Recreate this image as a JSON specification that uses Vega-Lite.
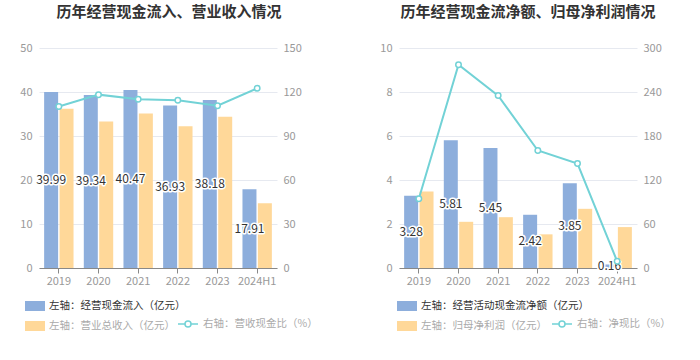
{
  "$schema": "https://vega.github.io/schema/vega-lite/v6.json",
  "padding": {"left": 19, "top": 5, "right": 5, "bottom": 5},
  "background": "white",
  "bounds": "flush",
  "spacing": 122,
  "config": {
    "font": "Noto Sans CJK SC",
    "view": {"stroke": null},
    "axis": {"labelFont": "Noto Sans CJK SC", "labelFontSize": 11, "labelColor": "#999999"},
    "legend": {"labelFont": "Noto Sans CJK SC"}
  },
  "datasets": {
    "barsL": [
      {"year": "2019", "series": "左轴：经营现金流入（亿元）", "value": 39.99},
      {"year": "2019", "series": "左轴：营业总收入（亿元）", "value": 36.2},
      {"year": "2020", "series": "左轴：经营现金流入（亿元）", "value": 39.34},
      {"year": "2020", "series": "左轴：营业总收入（亿元）", "value": 33.3},
      {"year": "2021", "series": "左轴：经营现金流入（亿元）", "value": 40.47},
      {"year": "2021", "series": "左轴：营业总收入（亿元）", "value": 35.1},
      {"year": "2022", "series": "左轴：经营现金流入（亿元）", "value": 36.93},
      {"year": "2022", "series": "左轴：营业总收入（亿元）", "value": 32.2},
      {"year": "2023", "series": "左轴：经营现金流入（亿元）", "value": 38.18},
      {"year": "2023", "series": "左轴：营业总收入（亿元）", "value": 34.4},
      {"year": "2024H1", "series": "左轴：经营现金流入（亿元）", "value": 17.91},
      {"year": "2024H1", "series": "左轴：营业总收入（亿元）", "value": 14.7}
    ],
    "lineL": [
      {"year": "2019", "series": "右轴：营收现金比（%）", "ratio": 110.1},
      {"year": "2020", "series": "右轴：营收现金比（%）", "ratio": 118.2},
      {"year": "2021", "series": "右轴：营收现金比（%）", "ratio": 115.0},
      {"year": "2022", "series": "右轴：营收现金比（%）", "ratio": 114.4},
      {"year": "2023", "series": "右轴：营收现金比（%）", "ratio": 110.7},
      {"year": "2024H1", "series": "右轴：营收现金比（%）", "ratio": 122.5}
    ],
    "barsR": [
      {"year": "2019", "series": "左轴：经营活动现金流净额（亿元）", "value": 3.28},
      {"year": "2019", "series": "左轴：归母净利润（亿元）", "value": 3.48},
      {"year": "2020", "series": "左轴：经营活动现金流净额（亿元）", "value": 5.81},
      {"year": "2020", "series": "左轴：归母净利润（亿元）", "value": 2.1},
      {"year": "2021", "series": "左轴：经营活动现金流净额（亿元）", "value": 5.45},
      {"year": "2021", "series": "左轴：归母净利润（亿元）", "value": 2.31},
      {"year": "2022", "series": "左轴：经营活动现金流净额（亿元）", "value": 2.42},
      {"year": "2022", "series": "左轴：归母净利润（亿元）", "value": 1.53},
      {"year": "2023", "series": "左轴：经营活动现金流净额（亿元）", "value": 3.85},
      {"year": "2023", "series": "左轴：归母净利润（亿元）", "value": 2.69},
      {"year": "2024H1", "series": "左轴：经营活动现金流净额（亿元）", "value": 0.16},
      {"year": "2024H1", "series": "左轴：归母净利润（亿元）", "value": 1.86}
    ],
    "lineR": [
      {"year": "2019", "series": "右轴：净现比（%）", "ratio": 94.4},
      {"year": "2020", "series": "右轴：净现比（%）", "ratio": 277.3},
      {"year": "2021", "series": "右轴：净现比（%）", "ratio": 235.1},
      {"year": "2022", "series": "右轴：净现比（%）", "ratio": 160.2},
      {"year": "2023", "series": "右轴：净现比（%）", "ratio": 142.5},
      {"year": "2024H1", "series": "右轴：净现比（%）", "ratio": 9.1}
    ]
  },
  "hconcat": [
    {
      "width": 238,
      "height": 220,
      "title": {"text": "历年经营现金流入、营业收入情况", "fontSize": 15, "fontWeight": "bold", "color": "#333333", "offset": 22, "dx": 11},
      "layer": [
        {
          "data": {"name": "barsL"},
          "encoding": {
            "x": {"field": "year", "type": "nominal", "sort": null, "title": null,
              "scale": {"paddingInner": 0.26, "paddingOuter": 0.13},
              "axis": {"labelAngle": 0, "domainColor": "#888888", "tickColor": "#888888", "tickSize": 5, "labelPadding": 2, "grid": false}}
          },
          "layer": [
            {
              "transform": [{"filter": "datum.series === '左轴：经营现金流入（亿元）'"}],
              "mark": {"type": "bar", "width": 14, "xOffset": -7.7},
              "encoding": {
                "y": {"field": "value", "type": "quantitative", "stack": null, "title": null,
                  "scale": {"domain": [0, 50]},
                  "axis": {"values": [0, 10, 20, 30, 40, 50], "ticks": false, "domain": false, "labelPadding": 7, "gridColor": "#e6e9f0"}},
                "fill": {"field": "series", "type": "nominal",
                  "scale": {"domain": ["左轴：经营现金流入（亿元）", "左轴：营业总收入（亿元）"], "range": ["#8daedc", "#ffd899"]},
                  "legend": {"orient": "none", "legendX": -14, "legendY": 248, "direction": "vertical", "title": null, "padding": 0,
                    "symbolType": "M-1,-0.5H1V0.5H-1Z", "symbolSize": 400, "symbolStrokeWidth": 0, "labelFontSize": 10.5, "labelOffset": 4, "rowPadding": 4, "labelLimit": 300,
                    "encode": {
                      "symbols": {"update": {"fill": {"signal": "datum.index === 0 ? '#8daedc' : '#ffe8c8'"}}},
                      "labels": {"update": {"fill": {"signal": "datum.index === 0 ? '#333333' : '#aaaaaa'"}}}
                    }}
                }
              }
            },
            {
              "transform": [{"filter": "datum.series === '左轴：营业总收入（亿元）'"}],
              "mark": {"type": "bar", "width": 14, "xOffset": 7.7},
              "encoding": {
                "y": {"field": "value", "type": "quantitative", "stack": null, "scale": {"domain": [0, 50]}, "axis": null},
                "fill": {"field": "series", "type": "nominal"}
              }
            },
            {
              "transform": [{"filter": "datum.series === '左轴：经营现金流入（亿元）'"}],
              "mark": {"type": "text", "fontSize": 12, "stroke": "white", "strokeWidth": 3, "strokeJoin": "round", "fill": "white", "xOffset": -7.7},
              "encoding": {
                "y": {"field": "value", "type": "quantitative", "stack": null, "scale": {"domain": [0, 100]}, "axis": null},
                "text": {"field": "value", "type": "quantitative", "format": ".2f"}
              }
            },
            {
              "transform": [{"filter": "datum.series === '左轴：经营现金流入（亿元）'"}],
              "mark": {"type": "text", "fontSize": 12, "fill": "#333333", "xOffset": -7.7},
              "encoding": {
                "y": {"field": "value", "type": "quantitative", "stack": null, "scale": {"domain": [0, 100]}, "axis": null},
                "text": {"field": "value", "type": "quantitative", "format": ".2f"}
              }
            }
          ],
          "resolve": {"scale": {"y": "independent"}}
        },
        {
          "data": {"name": "lineL"},
          "mark": {"type": "line", "strokeWidth": 2, "point": {"filled": false, "fill": "white", "size": 30, "strokeWidth": 1.5}},
          "encoding": {
            "x": {"field": "year", "type": "nominal", "sort": null, "scale": {"paddingInner": 0.26, "paddingOuter": 0.13}},
            "y": {"field": "ratio", "type": "quantitative", "title": null,
              "scale": {"domain": [0, 150]},
              "axis": {"orient": "right", "values": [0, 30, 60, 90, 120, 150], "ticks": false, "domain": false, "grid": false, "labelPadding": 6}},
            "stroke": {"field": "series", "type": "nominal", "scale": {"range": ["#72d2d6"]},
              "legend": {"orient": "none", "legendX": 138, "legendY": 265, "title": null, "padding": 0,
                "symbolType": "M-1,0H-0.3M0.3,0H1M0.3,0A0.3,0.3 0 1,1 -0.3,0A0.3,0.3 0 1,1 0.3,0", "symbolSize": 400, "symbolStrokeWidth": 1.5, "symbolFillColor": "white",
                "labelFontSize": 10.5, "labelOffset": 4, "labelLimit": 300,
                "encode": {
                  "symbols": {"update": {"stroke": {"value": "#b7e8ea"}, "fill": {"value": "white"}}},
                  "labels": {"update": {"fill": {"value": "#aaaaaa"}}}
                }}
            }
          }
        }
      ],
      "resolve": {"scale": {"y": "independent", "stroke": "independent", "fill": "independent"}}
    },
    {
      "width": 238,
      "height": 220,
      "title": {"text": "历年经营现金流净额、归母净利润情况", "fontSize": 15, "fontWeight": "bold", "color": "#333333", "offset": 22, "dx": 10},
      "layer": [
        {
          "data": {"name": "barsR"},
          "encoding": {
            "x": {"field": "year", "type": "nominal", "sort": null, "title": null,
              "scale": {"paddingInner": 0.26, "paddingOuter": 0.13},
              "axis": {"labelAngle": 0, "domainColor": "#888888", "tickColor": "#888888", "tickSize": 5, "labelPadding": 2, "grid": false}}
          },
          "layer": [
            {
              "transform": [{"filter": "datum.series === '左轴：经营活动现金流净额（亿元）'"}],
              "mark": {"type": "bar", "width": 14, "xOffset": -7.7},
              "encoding": {
                "y": {"field": "value", "type": "quantitative", "stack": null, "title": null,
                  "scale": {"domain": [0, 10]},
                  "axis": {"values": [0, 2, 4, 6, 8, 10], "ticks": false, "domain": false, "labelPadding": 7, "gridColor": "#e6e9f0"}},
                "fill": {"field": "series", "type": "nominal",
                  "scale": {"domain": ["左轴：经营活动现金流净额（亿元）", "左轴：归母净利润（亿元）"], "range": ["#8daedc", "#ffd899"]},
                  "legend": {"orient": "none", "legendX": -2, "legendY": 248, "direction": "vertical", "title": null, "padding": 0,
                    "symbolType": "M-1,-0.5H1V0.5H-1Z", "symbolSize": 400, "symbolStrokeWidth": 0, "labelFontSize": 10.5, "labelOffset": 4, "rowPadding": 4, "labelLimit": 300,
                    "encode": {
                      "symbols": {"update": {"fill": {"signal": "datum.index === 0 ? '#8daedc' : '#ffe8c8'"}}},
                      "labels": {"update": {"fill": {"signal": "datum.index === 0 ? '#333333' : '#aaaaaa'"}}}
                    }}
                }
              }
            },
            {
              "transform": [{"filter": "datum.series === '左轴：归母净利润（亿元）'"}],
              "mark": {"type": "bar", "width": 14, "xOffset": 7.7},
              "encoding": {
                "y": {"field": "value", "type": "quantitative", "stack": null, "scale": {"domain": [0, 10]}, "axis": null},
                "fill": {"field": "series", "type": "nominal"}
              }
            },
            {
              "transform": [{"filter": "datum.series === '左轴：经营活动现金流净额（亿元）'"}],
              "mark": {"type": "text", "fontSize": 12, "stroke": "white", "strokeWidth": 3, "strokeJoin": "round", "fill": "white", "xOffset": -7.7},
              "encoding": {
                "y": {"field": "value", "type": "quantitative", "stack": null, "scale": {"domain": [0, 20]}, "axis": null},
                "text": {"field": "value", "type": "quantitative", "format": ".2f"}
              }
            },
            {
              "transform": [{"filter": "datum.series === '左轴：经营活动现金流净额（亿元）'"}],
              "mark": {"type": "text", "fontSize": 12, "fill": "#333333", "xOffset": -7.7},
              "encoding": {
                "y": {"field": "value", "type": "quantitative", "stack": null, "scale": {"domain": [0, 20]}, "axis": null},
                "text": {"field": "value", "type": "quantitative", "format": ".2f"}
              }
            }
          ],
          "resolve": {"scale": {"y": "independent"}}
        },
        {
          "data": {"name": "lineR"},
          "mark": {"type": "line", "strokeWidth": 2, "point": {"filled": false, "fill": "white", "size": 30, "strokeWidth": 1.5}},
          "encoding": {
            "x": {"field": "year", "type": "nominal", "sort": null, "scale": {"paddingInner": 0.26, "paddingOuter": 0.13}},
            "y": {"field": "ratio", "type": "quantitative", "title": null,
              "scale": {"domain": [0, 300]},
              "axis": {"orient": "right", "values": [0, 60, 120, 180, 240, 300], "ticks": false, "domain": false, "grid": false, "labelPadding": 6}},
            "stroke": {"field": "series", "type": "nominal", "scale": {"range": ["#72d2d6"]},
              "legend": {"orient": "none", "legendX": 152, "legendY": 265, "title": null, "padding": 0,
                "symbolType": "M-1,0H-0.3M0.3,0H1M0.3,0A0.3,0.3 0 1,1 -0.3,0A0.3,0.3 0 1,1 0.3,0", "symbolSize": 400, "symbolStrokeWidth": 1.5, "symbolFillColor": "white",
                "labelFontSize": 10.5, "labelOffset": 4, "labelLimit": 300,
                "encode": {
                  "symbols": {"update": {"stroke": {"value": "#b7e8ea"}, "fill": {"value": "white"}}},
                  "labels": {"update": {"fill": {"value": "#aaaaaa"}}}
                }}
            }
          }
        }
      ],
      "resolve": {"scale": {"y": "independent", "stroke": "independent", "fill": "independent"}}
    }
  ]
}
